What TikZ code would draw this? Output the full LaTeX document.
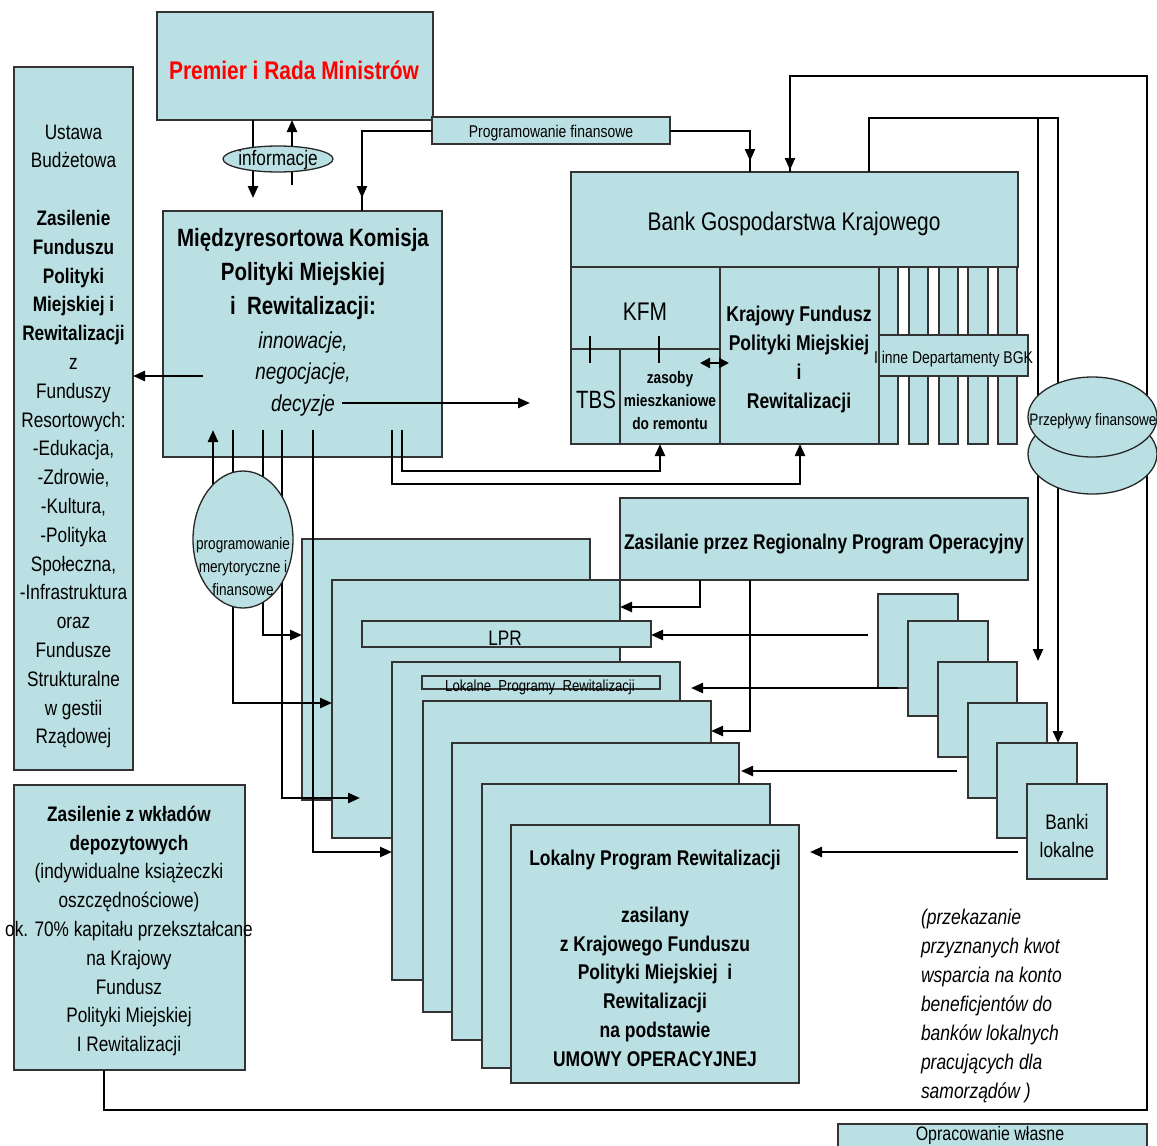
\documentclass[tikz,border=0pt]{standalone}
\usepackage{fontspec}
\setmainfont{Liberation Sans}[FakeStretch=0.82]
\usetikzlibrary{arrows.meta,shapes.geometric}
\definecolor{boxfill}{RGB}{187,224,227}
\definecolor{premred}{RGB}{255,0,0}
\newcommand{\fsz}[2]{\fontsize{#1}{#2}\selectfont}
\newcommand{\mkbox}[6][]{\node[box,#1,minimum width={(#5)-(#3)},minimum height={(#6)-(#4)}] (#2) at ({((#3)+(#5))/2},{((#4)+(#6))/2}) {};}
\begin{document}
\begin{tikzpicture}[x=1pt,y=-1pt,
  box/.style={draw=black!80, line width=1.3pt, fill=boxfill, inner sep=0pt, outer sep=0pt},
  ell/.style={ellipse, draw=black!85, line width=1.3pt, fill=boxfill, inner sep=0pt, outer sep=0pt},
  conn/.style={line width=2.3pt, line join=miter},
  arr/.style={conn, -{Triangle[length=12pt,width=10pt]}},
  darr/.style={conn, {Triangle[length=10pt,width=10pt]}-{Triangle[length=10pt,width=10pt]}},
  txt/.style={inner sep=0pt, outer sep=0pt, align=center, font=\fsz{21}{28.8}, yshift=-2pt},
]
\path[use as bounding box] (0,0) rectangle (1157,1146);

% ---------- boxes ----------
\mkbox{premier}{157}{12}{433}{120}
\mkbox{prog}{432}{117}{670}{144}
\mkbox{left}{14}{67}{133}{770}
\mkbox{kom}{163}{211}{442}{457}
\mkbox{bgktop}{571}{172}{1018}{267}
\mkbox{kfm}{571}{267}{720}{444}
\mkbox{tbs}{571}{349}{620}{444}
\mkbox{zas}{620}{349}{720}{444}
\mkbox{kf}{720}{267}{879}{444}
\mkbox{s1}{879}{267}{898}{444}
\mkbox{s2}{909}{267}{928}{444}
\mkbox{s3}{939}{267}{958}{444}
\mkbox{s4}{968}{267}{988}{444}
\mkbox{s5}{998}{267}{1017}{444}
\mkbox{inne}{879}{335}{1028}{376}
\mkbox{rpo}{620}{498}{1028}{580}

\mkbox{A}{302}{539}{590}{800}
\mkbox{B}{332}{580}{620}{838}
\mkbox{C}{362}{621}{651}{647}
\mkbox{D}{392}{662}{680}{980}
\mkbox{Ls}{422}{676}{660}{689}
\mkbox{E}{423}{701}{711}{1012}
\mkbox{F}{452}{743}{739}{1040}
\mkbox{G}{482}{784}{770}{1068}
\mkbox{H}{511}{825}{799}{1083}

\mkbox{b1}{878}{594}{958}{688}
\mkbox{b2}{908}{621}{988}{716}
\mkbox{b3}{938}{662}{1017}{757}
\mkbox{b4}{968}{703}{1047}{798}
\mkbox{b5}{997}{743}{1077}{838}
\mkbox{b6}{1027}{784}{1107}{879}

\mkbox{dep}{14}{785}{245}{1070}
\mkbox{opr}{838}{1124}{1147}{1152}

% ---------- connectors ----------
\draw[arr] (253,0 |- premier.south) -- (253,198);
\draw[arr] (292,185) -- (292,0 |- premier.south);

\draw[conn] (prog.west |- 0,131) -- (362,131) -- (362,0 |- kom.north);
\draw[arr] (362,170) -- (362,198);

\draw[conn] (prog.east |- 0,131) -- (750,131) -- (750,0 |- bgktop.north);
\draw[arr] (750,140) -- (750,161);

\draw[conn] (104,0 |- dep.south) -- (104,1110) -- (1147,1110) -- (1147,76) -- (790,76) -- (790,0 |- bgktop.north);
\draw[arr] (790,150) -- (790,170);

\draw[arr] (869,0 |- bgktop.north) -- (869,118) -- (1058,118) -- (1058,0 |- b5.north);
\draw[arr] (1038,118) -- (1038,661);

\draw[arr] (203,376) -- (left.east |- 0,376);
\draw[arr] (342,403) -- (530,403);

\draw[arr] (213,490) -- (213,430);
\draw[arr] (233,430) -- (233,703) -- (B.west |- 0,703);
\draw[arr] (263,430) -- (263,635) -- (A.west |- 0,635);
\draw[arr] (282,430) -- (282,798) -- (360,798);
\draw[arr] (313,430) -- (313,852) -- (D.west |- 0,852);
\draw[arr] (392,430) -- (392,484) -- (800,484) -- (800,0 |- kf.south);
\draw[arr] (402,430) -- (402,471) -- (660,471) -- (660,0 |- zas.south);

\draw[darr] (700,363) -- (729,363);
\draw[line width=1.6pt] (590,336) -- (590,363);
\draw[line width=1.6pt] (659,336) -- (659,363);

\draw[arr] (700,0 |- rpo.south) -- (700,607) -- (B.east |- 0,607);
\draw[arr] (750,0 |- rpo.south) -- (750,731) -- (E.east |- 0,731);

\draw[arr] (868,635) -- (C.east |- 0,635);
\draw[arr] (898,688) -- (691,688);
\draw[arr] (957,771) -- (741,771);
\draw[arr] (1018,852) -- (810,852);

% ---------- ellipses ----------
\node[ell, minimum width=110, minimum height=26] (info) at (278,159) {};
\node[ell, minimum width=100, minimum height=137] (pme) at (243,539.5) {};
\node[ell, minimum width=129, minimum height=80] (pf2) at (1092.5,454) {};
\node[ell, minimum width=129, minimum height=80] (pf1) at (1092.5,417) {};

% ---------- texts ----------
\node[txt, font=\fsz{25.5}{30}\bfseries, text=premred] (tprem) at (294,68) {Premier i Rada Ministrów};
\node[txt, font=\fsz{17}{20}] (tprog) at (551,131) {Programowanie finansowe};
\node[txt] (tinfo) at (278,158) {informacje};
\node[txt] (tleft) at (73.5,434.5) {Ustawa\\Budżetowa\\[28.9pt]\textbf{Zasilenie}\\\textbf{Funduszu}\\\textbf{Polityki}\\\textbf{Miejskiej i}\\\textbf{Rewitalizacji}\\z\\Funduszy\\Resortowych:\\-Edukacja,\\-Zdrowie,\\-Kultura,\\-Polityka\\Społeczna,\\-Infrastruktura\\oraz\\Fundusze\\Strukturalne\\w gestii\\Rządowej};
\node[txt, font=\fsz{25}{34}\bfseries] (tkom) at (303,272) {Międzyresortowa Komisja\\Polityki Miejskiej\\i\ \ Rewitalizacji:};
\node[txt, font=\fsz{23}{31.5}\itshape] (tkomi) at (303,372) {innowacje,\\negocjacje,\\decyzje};
\node[txt, font=\fsz{25.5}{30}] (tbgk) at (794,222) {Bank Gospodarstwa Krajowego};
\node[txt, font=\fsz{25.5}{30}] (tkfm) at (645,310) {KFM};
\node[txt, font=\fsz{25}{30}] (ttbs) at (596,398) {TBS};
\node[txt, font=\fsz{16.7}{23}\bfseries] (tzas) at (670,399) {zasoby\\mieszkaniowe\\do remontu};
\node[txt, font=\fsz{21.4}{29}\bfseries] (tkf) at (799,357) {Krajowy Fundusz\\Polityki Miejskiej\\i\\Rewitalizacji};
\node[txt, font=\fsz{17}{20}] (tinne) at (953.5,357) {I inne Departamenty BGK};
\node[txt, font=\fsz{16.6}{20}] (tpf) at (1093,419) {Przepływy finansowe};
\node[txt, font=\fsz{16.6}{23}] (tpme) at (243,565) {programowanie\\merytoryczne i\\finansowe};
\node[txt, font=\fsz{21.3}{28}\bfseries] (trpo) at (824,542) {Zasilanie przez Regionalny Program Operacyjny};
\node[txt, font=\fsz{21}{28}] (tlpr) at (505,636) {LPR};
\node[txt, font=\fsz{16}{20}] (tls) at (540,685) {Lokalne\ \ Programy\ \ Rewitalizacji};
\node[txt, font=\fsz{21.3}{28.7}\bfseries] (th) at (655,956) {Lokalny Program Rewitalizacji\\[28.7pt]zasilany\\z Krajowego Funduszu\\Polityki Miejskiej\ \ i\\Rewitalizacji\\na podstawie\\UMOWY OPERACYJNEJ};
\node[txt] (tbanki) at (1067,834) {Banki\\lokalne};
\node[txt, font=\fsz{21.3}{29}\itshape, align=left, anchor=west] (tprz) at (921,1004) {(przekazanie\\przyznanych kwot\\wsparcia na konto\\beneficjentów do\\banków lokalnych\\pracujących dla\\samorządów )};
\node[txt] (tdep) at (129,929) {\textbf{Zasilenie z wkładów}\\\textbf{depozytowych}\\(indywidualne książeczki\\oszczędnościowe)\\ok. 70\% kapitału przekształcane\\na Krajowy\\Fundusz\\Polityki Miejskiej\\I Rewitalizacji};
\node[txt, font=\fsz{19.5}{24}] (topr) at (990,1133.5) {Opracowanie własne};
\end{tikzpicture}
\end{document}
